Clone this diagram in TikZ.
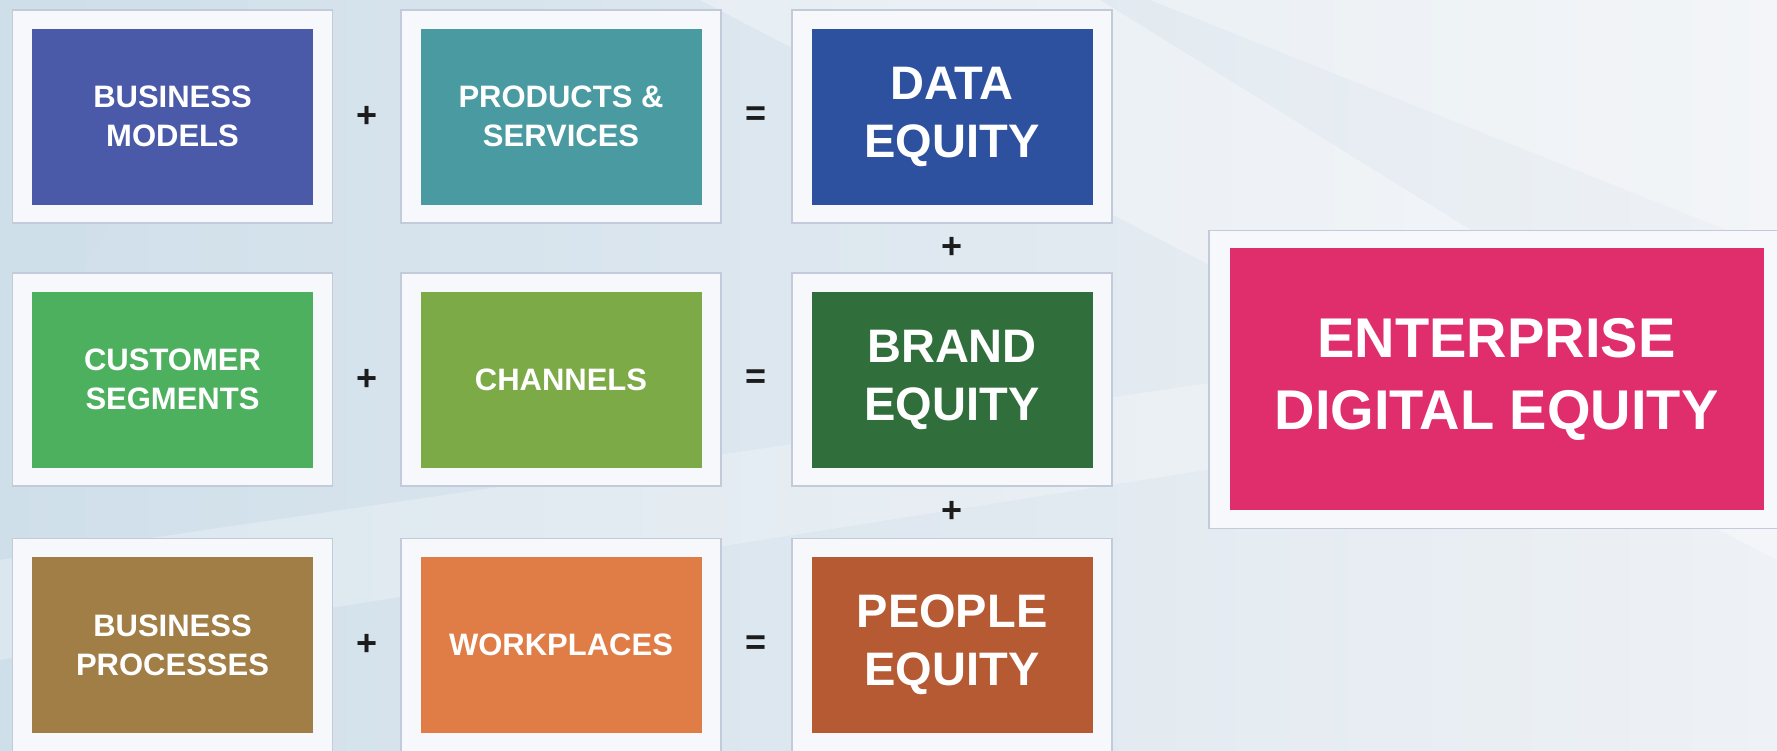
\documentclass[tikz,border=0pt]{standalone}
\usepackage{fontspec}
\setmainfont{Liberation Sans}
\usetikzlibrary{positioning,calc}

\definecolor{bgleft}{HTML}{CFDFEA}
\definecolor{bgright}{HTML}{EEF1F5}
\definecolor{framefill}{HTML}{F6F8FB}
\definecolor{frameline}{HTML}{C3CADA}
\definecolor{cBizModels}{HTML}{4A5AA9}
\definecolor{cProducts}{HTML}{4A9AA1}
\definecolor{cData}{HTML}{2E519F}
\definecolor{cSegments}{HTML}{4DB05F}
\definecolor{cChannels}{HTML}{7CAA46}
\definecolor{cBrand}{HTML}{306E3B}
\definecolor{cProcesses}{HTML}{A07E46}
\definecolor{cWorkplaces}{HTML}{E07C46}
\definecolor{cPeople}{HTML}{B55A33}
\definecolor{cEnterprise}{HTML}{E02D6B}
\definecolor{opink}{HTML}{1C1C1C}

\tikzset{
  frame/.style={draw=frameline, line width=0.6pt, fill=framefill,
    minimum width=160pt, minimum height=106.5pt, inner sep=0pt},
  bigframe/.style={draw=frameline, line width=0.6pt, fill=framefill,
    minimum width=285pt, minimum height=149pt, inner sep=0pt},
  tile/.style={fill=#1, minimum width=140.5pt, minimum height=88pt,
    inner sep=0pt, text=white, align=center,
    font=\bfseries\fontsize{15.5}{19.5}\selectfont},
  result/.style={tile=#1, font=\bfseries\fontsize{23.5}{29}\selectfont},
  total/.style={fill=#1, minimum width=267pt, minimum height=131pt,
    inner sep=0pt, text=white, align=center,
    font=\bfseries\fontsize{28}{36}\selectfont},
  op/.style={text=opink, inner sep=0pt, font=\bfseries\fontsize{18}{18}\selectfont},
}

\begin{document}
\begin{tikzpicture}[x=0.5pt, y=-0.5pt]
  % canvas
  \useasboundingbox (0,0) rectangle (1777,750);
  \shade[left color=bgleft, right color=bgright] (0,0) rectangle (1777,750);
  % soft light streaks across the backdrop
  \fill[white, opacity=0.35] (700,0) -- (1100,0) -- (1777,420) -- (1777,560) -- cycle;
  \fill[white, opacity=0.25] (0,560) -- (1777,300) -- (1777,380) -- (0,660) -- cycle;
  \fill[white, opacity=0.30] (1150,0) -- (1777,0) -- (1777,250) -- cycle;
  \fill[bgleft, opacity=0.35] (0,0) -- (250,0) -- (0,400) -- cycle;

  % column and row centres
  \def\cA{172.5} \def\cB{561} \def\cC{952}
  \def\rA{116.5} \def\rB{379.5} \def\rC{645}

  % white frames
  \node[frame] (f11) at (\cA,\rA) {};
  \node[frame] (f12) at (\cB,\rA) {};
  \node[frame] (f13) at (\cC,\rA) {};
  \node[frame] (f21) at (\cA,\rB) {};
  \node[frame] (f22) at (\cB,\rB) {};
  \node[frame] (f23) at (\cC,\rB) {};
  \node[frame] (f31) at (\cA,\rC) {};
  \node[frame] (f32) at (\cB,\rC) {};
  \node[frame] (f33) at (\cC,\rC) {};
  \node[bigframe] (fbig) at (1494,379.5) {};

  % coloured tiles
  \node[tile=cBizModels] (bm) at (f11) {BUSINESS\\MODELS};
  \node[tile=cProducts] (ps) at (f12) {PRODUCTS \&\\SERVICES};
  \node[result=cData] (de) at (f13) {DATA\\EQUITY};
  \node[tile=cSegments] (cs) at (f21) {CUSTOMER\\SEGMENTS};
  \node[tile=cChannels] (ch) at (f22) {CHANNELS};
  \node[result=cBrand] (be) at (f23) {BRAND\\EQUITY};
  \node[tile=cProcesses] (bp) at (f31) {BUSINESS\\PROCESSES};
  \node[tile=cWorkplaces] (wp) at (f32) {WORKPLACES};
  \node[result=cPeople] (pe) at (f33) {PEOPLE\\EQUITY};
  \node[total=cEnterprise] (ede) at (1496.5,379) {ENTERPRISE\\DIGITAL EQUITY};

  % operators
  \node[op] (p1) at ($(f11.east)!0.5!(f12.west)$) {+};
  \node[op] (e1) at ($(f12.east)!0.5!(f13.west)$) {=};
  \node[op] (p2) at ($(f21.east)!0.5!(f22.west)$) {+};
  \node[op] (e2) at ($(f22.east)!0.5!(f23.west)$) {=};
  \node[op] (p3) at ($(f31.east)!0.5!(f32.west)$) {+};
  \node[op] (e3) at ($(f32.east)!0.5!(f33.west)$) {=};
  \node[op] (v1) at ($(f13.south)!0.5!(f23.north)$) {+};
  \node[op] (v2) at ($(f23.south)!0.5!(f33.north)$) {+};
\end{tikzpicture}
\end{document}
